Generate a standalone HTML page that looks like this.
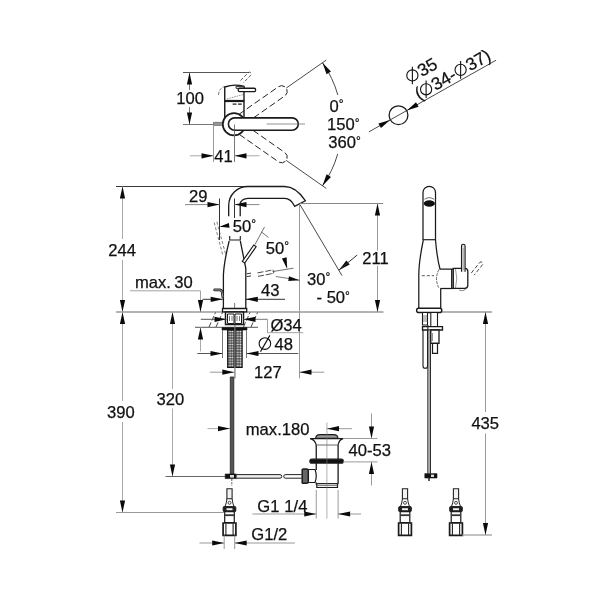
<!DOCTYPE html>
<html><head><meta charset="utf-8"><style>
html,body{margin:0;padding:0;background:#fff;width:600px;height:600px;overflow:hidden}
svg{display:block;will-change:transform}
text{font-family:"Liberation Sans",sans-serif;fill:#111;stroke:#111;stroke-width:0.25px}
</style></head><body>
<svg width="600" height="600" viewBox="0 0 600 600">
<rect width="600" height="600" fill="#fff"/>
<line x1="183" y1="72.5" x2="249" y2="72.5" stroke="#555" stroke-width="1" />
<line x1="183" y1="124.5" x2="213.5" y2="124.5" stroke="#777" stroke-width="1" />
<line x1="189.5" y1="72.5" x2="189.5" y2="90" stroke="#777" stroke-width="1" />
<line x1="189.5" y1="107" x2="189.5" y2="124.5" stroke="#777" stroke-width="1" />
<polygon points="189.50,72.50 192.10,84.50 186.90,84.50" fill="#0a0a0a"/>
<polygon points="189.50,124.50 186.90,112.50 192.10,112.50" fill="#0a0a0a"/>
<text x="176.3" y="104.2" font-size="16.6" text-anchor="start" >100</text>
<path d="M240.5,80.5 L248.2,72.8 A1.6,1.6 0 0 1 250.8,75.2 L243.2,83" stroke="#333" stroke-width="0.8" fill="none" stroke-dasharray="3.5,1.8"/>
<path d="M224.75,101 V87 Q235,83.5 244,86.5 V117" stroke="#1a1a1a" stroke-width="1.4" fill="none" />
<path d="M218.5,95 Q219,88 224.75,86.5" stroke="#333" stroke-width="0.7" fill="none" stroke-dasharray="3,1.5"/>
<path d="M224.5,101 H244.2" stroke="#1a1a1a" stroke-width="2.2" fill="none" />
<path d="M224.75,101 V117" stroke="#1a1a1a" stroke-width="1.4" fill="none" />
<path d="M227,99 L243,94.6" stroke="#444" stroke-width="0.6" fill="none" stroke-dasharray="1.5,1"/>
<path d="M232.6,104.2 H236.5 M238,104.2 H241.8" stroke="#222" stroke-width="1.3" fill="none" />
<path d="M236,86.4 h8 v1.9 h-8 z" stroke="#1a1a1a" stroke-width="0.9" fill="#fff" />
<path d="M239.8,88.25 H254 A1.7,1.7 0 0 1 254,91.65 H239.8 A1.7,1.7 0 0 1 239.8,88.25 Z" stroke="#1a1a1a" stroke-width="1.3" fill="#fff" />
<g transform="rotate(-35 234.6 124.25)">
<path d="M243.6,118.65 H292.0 A5.6,5.6 0 0 1 292.0,129.85 H243.6" stroke="#222" stroke-width="0.9" fill="none" stroke-dasharray="6.5,3.2"/>
<line x1="297.6" y1="124.25" x2="346.5" y2="124.25" stroke="#333" stroke-width="0.8" />
</g>
<g transform="rotate(35 234.6 124.25)">
<path d="M243.6,118.65 H292.0 A5.6,5.6 0 0 1 292.0,129.85 H243.6" stroke="#222" stroke-width="0.9" fill="none" stroke-dasharray="6.5,3.2"/>
<line x1="297.6" y1="124.25" x2="346.5" y2="124.25" stroke="#333" stroke-width="0.8" />
</g>
<path d="M213.5,122.4 h9.5 v3 h-9.5 z" stroke="#444" stroke-width="0.6" fill="#999" />
<circle cx="234.0" cy="124.25" r="11.2" stroke="#1a1a1a" stroke-width="1.7" fill="#fff"/>
<path d="M234.6,117.85 H292.1 A6.2,6.2 0 0 1 292.1,130.25 H234.6 A6.2,6.2 0 0 1 234.6,117.85 Z" stroke="#1a1a1a" stroke-width="1.6" fill="#fff" />
<line x1="266.7" y1="124" x2="305" y2="124" stroke="#666" stroke-width="0.7" />
<line x1="234.5" y1="124.5" x2="234.5" y2="131" stroke="#555" stroke-width="0.8" />
<line x1="213.5" y1="125.5" x2="213.5" y2="162" stroke="#999" stroke-width="1" />
<line x1="234.5" y1="131" x2="234.5" y2="162" stroke="#777" stroke-width="1" />
<line x1="190" y1="155.8" x2="213.5" y2="155.8" stroke="#aaa" stroke-width="1" />
<line x1="234.5" y1="155.8" x2="259.5" y2="155.8" stroke="#aaa" stroke-width="1" />
<polygon points="213.50,155.80 201.50,158.40 201.50,153.20" fill="#0a0a0a"/>
<polygon points="234.50,155.80 246.50,153.20 246.50,158.40" fill="#0a0a0a"/>
<text x="214.3" y="161.9" font-size="16.6" text-anchor="start" >41</text>
<path d="M322.50,62.71 A107.3,107.3 0 0 1 337.85,95.03" stroke="#333" stroke-width="0.9" fill="none" />
<polygon points="322.50,62.71 330.98,71.58 326.55,74.30" fill="#0a0a0a"/>
<path d="M322.50,185.79 A107.3,107.3 0 0 0 337.69,154.01" stroke="#333" stroke-width="0.9" fill="none" />
<polygon points="322.50,185.79 326.55,174.20 330.98,176.92" fill="#0a0a0a"/>
<text x="329.6" y="111.8" font-size="16.6" text-anchor="start" >0<tspan font-size="12" dx="0" dy="-3.7">°</tspan></text>
<text x="327" y="130.2" font-size="16.6" text-anchor="start" >150<tspan font-size="12" dx="0" dy="-3.7">°</tspan></text>
<text x="328.3" y="148.4" font-size="16.6" text-anchor="start" >360<tspan font-size="12" dx="0" dy="-3.7">°</tspan></text>
<circle cx="398.5" cy="115.2" r="9.4" stroke="#1a1a1a" stroke-width="1.3" fill="none"/>
<line x1="368.8787304219136" y1="131.8907276229148" x2="496.0759468454612" y2="60.21877959510424" stroke="#333" stroke-width="0.9" />
<polygon points="390.14,119.91 380.96,128.07 378.41,123.54" fill="#0a0a0a"/>
<polygon points="406.86,110.49 416.04,102.33 418.59,106.86" fill="#0a0a0a"/>
<circle cx="412.38" cy="75.44" r="5.6" stroke="#111" stroke-width="1.1" fill="none"/>
<line x1="412.38" y1="66.64" x2="412.38" y2="84.24" stroke="#111" stroke-width="1.1" />
<text x="0" y="0" font-size="17.6" transform="translate(421.65,77.22) rotate(-29.4)">35</text>
<text x="0" y="0" font-size="17.6" transform="translate(419.00,100.30) rotate(-29.4)">(</text>
<circle cx="426.11" cy="89.29" r="5.6" stroke="#111" stroke-width="1.1" fill="none"/>
<line x1="426.11" y1="80.49" x2="426.11" y2="98.09" stroke="#111" stroke-width="1.1" />
<text x="0" y="0" font-size="17.6" transform="translate(435.55,90.97) rotate(-29.4)">34-</text>
<circle cx="460.61" cy="69.85" r="5.6" stroke="#111" stroke-width="1.1" fill="none"/>
<line x1="460.61" y1="61.05" x2="460.61" y2="78.65" stroke="#111" stroke-width="1.1" />
<text x="0" y="0" font-size="17.6" transform="translate(470.05,71.53) rotate(-29.4)">37)</text>
<line x1="116" y1="186.5" x2="246" y2="186.5" stroke="#3a3a3a" stroke-width="1" />
<line x1="122.5" y1="186.5" x2="122.5" y2="239" stroke="#aaa" stroke-width="1" />
<line x1="122.5" y1="260" x2="122.5" y2="312" stroke="#aaa" stroke-width="1" />
<polygon points="122.50,186.50 125.10,198.50 119.90,198.50" fill="#0a0a0a"/>
<polygon points="122.50,312.00 119.90,300.00 125.10,300.00" fill="#0a0a0a"/>
<text x="108.2" y="255.8" font-size="16.6" text-anchor="start" >244</text>
<line x1="122.5" y1="312" x2="122.5" y2="401" stroke="#aaa" stroke-width="1" />
<line x1="122.5" y1="422" x2="122.5" y2="512.5" stroke="#aaa" stroke-width="1" />
<polygon points="122.50,312.00 125.10,324.00 119.90,324.00" fill="#0a0a0a"/>
<polygon points="122.50,512.50 119.90,500.50 125.10,500.50" fill="#0a0a0a"/>
<text x="107" y="418.1" font-size="16.6" text-anchor="start" >390</text>
<line x1="116" y1="512.5" x2="224" y2="512.5" stroke="#999" stroke-width="1" />
<line x1="172.5" y1="312" x2="172.5" y2="389" stroke="#aaa" stroke-width="1" />
<line x1="172.5" y1="408.5" x2="172.5" y2="476.5" stroke="#aaa" stroke-width="1" />
<polygon points="172.50,312.00 175.10,324.00 169.90,324.00" fill="#0a0a0a"/>
<polygon points="172.50,476.50 169.90,464.50 175.10,464.50" fill="#0a0a0a"/>
<text x="156.6" y="405" font-size="16.6" text-anchor="start" >320</text>
<line x1="165.5" y1="476.5" x2="226" y2="476.5" stroke="#666" stroke-width="1" />
<line x1="116" y1="312" x2="383.5" y2="312" stroke="#9a9a9a" stroke-width="1.6" />
<line x1="441.7" y1="312" x2="492" y2="312" stroke="#9a9a9a" stroke-width="1.6" />
<line x1="195" y1="327.3" x2="258" y2="327.3" stroke="#777" stroke-width="1.2" />
<line x1="209" y1="327" x2="215.5" y2="312.5" stroke="#333" stroke-width="0.9" stroke-dasharray="5,2"/>
<line x1="216" y1="327" x2="222.5" y2="312.5" stroke="#333" stroke-width="0.9" stroke-dasharray="5,2"/>
<line x1="243.5" y1="327" x2="250.0" y2="312.5" stroke="#333" stroke-width="0.9" stroke-dasharray="5,2"/>
<line x1="251" y1="327" x2="257.5" y2="312.5" stroke="#333" stroke-width="0.9" stroke-dasharray="5,2"/>
<text x="135" y="287.7" font-size="16.6" text-anchor="start" >max.</text>
<text x="174.3" y="287.7" font-size="16.6" text-anchor="start" >30</text>
<path d="M130,290.8 H200.5 V312" stroke="#999" stroke-width="0.9" fill="none" />
<polygon points="200.50,312.00 197.90,300.00 203.10,300.00" fill="#0a0a0a"/>
<line x1="200.5" y1="327.4" x2="200.5" y2="351.4" stroke="#aaa" stroke-width="1" />
<polygon points="200.50,327.40 203.10,339.40 197.90,339.40" fill="#0a0a0a"/>
<path d="M228.7,216.3 V205.5 A19,19 0 0 1 247.7,186.5 H284.5 Q296,186.5 305.3,200.7 L294.7,206.3 Q291,198.3 284.5,198.3 H248 A7.8,6 0 0 0 240.2,204.3 V216.3" stroke="#1a1a1a" stroke-width="1.3" fill="none" />
<line x1="219.5" y1="198.5" x2="219.5" y2="240" stroke="#333" stroke-width="1" />
<line x1="234.5" y1="198.5" x2="234.5" y2="218" stroke="#333" stroke-width="1" />
<line x1="185" y1="204.6" x2="219.5" y2="204.6" stroke="#888" stroke-width="1" />
<line x1="234.5" y1="204.6" x2="259.5" y2="204.6" stroke="#888" stroke-width="1" />
<polygon points="219.50,204.60 207.50,207.20 207.50,202.00" fill="#0a0a0a"/>
<polygon points="234.50,204.60 246.50,202.00 246.50,207.20" fill="#0a0a0a"/>
<text x="189" y="202.2" font-size="16.6" text-anchor="start" >29</text>
<line x1="300" y1="203.5" x2="383.2" y2="203.5" stroke="#888" stroke-width="1" />
<line x1="377.5" y1="203.5" x2="377.5" y2="250.7" stroke="#999" stroke-width="1" />
<line x1="377.5" y1="265.8" x2="377.5" y2="312" stroke="#999" stroke-width="1" />
<polygon points="377.50,203.50 380.10,215.50 374.90,215.50" fill="#0a0a0a"/>
<polygon points="377.50,312.00 374.90,300.00 380.10,300.00" fill="#0a0a0a"/>
<text x="362.3" y="263.9" font-size="16.6" text-anchor="start" >211</text>
<line x1="299.5" y1="204.7" x2="299.5" y2="378.3" stroke="#999" stroke-width="1" />
<line x1="300" y1="204.7" x2="342" y2="275.6" stroke="#333" stroke-width="0.9" />
<polygon points="338.80,270.20 346.40,260.55 349.71,264.56" fill="#0a0a0a"/>
<line x1="338.8" y1="270.2" x2="357.2" y2="255" stroke="#333" stroke-width="1" />
<text x="307" y="284.5" font-size="16.6" text-anchor="start" >30<tspan font-size="12" dx="0" dy="-3.7">°</tspan></text>
<text x="316.5" y="303.2" font-size="16.6" text-anchor="start" >- 50<tspan font-size="12" dx="0" dy="-3.7">°</tspan></text>
<text x="232.8" y="232" font-size="16.6" text-anchor="start" >50<tspan font-size="12" dx="0" dy="-3.7">°</tspan></text>
<polygon points="219.30,226.70 228.85,222.90 229.54,227.65" fill="#0a0a0a"/>
<path d="M214.2,222.5 L223,256 M216.8,221.8 L225.6,254" stroke="#444" stroke-width="0.7" fill="none" stroke-dasharray="3,2"/>
<path d="M229.7,236 V240 H240.3 V236" stroke="#1a1a1a" stroke-width="1.1" fill="none" />
<path d="M229.2,240.8 Q224,262 223.4,275 V308.3 M240.3,240.8 L245.8,268.3 V308.3" stroke="#1a1a1a" stroke-width="1.3" fill="none" />
<path d="M222.5,308.5 h24.2 v3.3 h-24.2 z" stroke="#1a1a1a" stroke-width="1.3" fill="#fff" />
<line x1="234.6" y1="303" x2="234.6" y2="308" stroke="#444" stroke-width="0.7" />
<g transform="rotate(35 249.2 254)">
<path d="M247.8,244 h2.9 v20 h-2.9 z" stroke="#1a1a1a" stroke-width="1.15" fill="#fff" />
</g>
<line x1="255" y1="244.5" x2="264.5" y2="227" stroke="#333" stroke-width="0.7" />
<line x1="261.5" y1="232" x2="268.5" y2="237.5" stroke="#333" stroke-width="0.7" />
<text x="265.7" y="253.8" font-size="16.6" text-anchor="start" >50<tspan font-size="12" dx="0" dy="-3.7">°</tspan></text>
<path d="M246.8,273.8 L251,273.1 M246.8,276.6 L251,275.9" stroke="#333" stroke-width="1" fill="none" />
<path d="M257.5,272.9 L272.5,270 M258,276.4 L272.5,273.5" stroke="#333" stroke-width="0.9" fill="none" stroke-dasharray="6,2"/>
<path d="M272.5,270 A1.8,1.8 0 0 1 272.5,273.5" stroke="#333" stroke-width="0.8" fill="none" />
<line x1="272.5" y1="271.6" x2="293.5" y2="268.2" stroke="#333" stroke-width="0.7" />
<polygon points="287.20,269.00 281.97,258.48 286.62,257.27" fill="#0a0a0a"/>
<line x1="275.8" y1="276.5" x2="299.5" y2="280.2" stroke="#444" stroke-width="0.7" />
<polygon points="299.50,280.20 288.26,280.89 288.99,276.15" fill="#0a0a0a"/>
<path d="M214.6,289.9 H220 Q222,290.2 222.2,292.5 L222.8,297" stroke="#222" stroke-width="2.6" fill="none" stroke-linecap="round"/>
<path d="M214.6,289.9 H220 Q222,290.2 222.2,292.5 L222.8,297" stroke="#aaa" stroke-width="0.9" fill="none" stroke-linecap="round"/>
<line x1="202.5" y1="299.3" x2="222.7" y2="299.3" stroke="#333" stroke-width="1" />
<line x1="245.8" y1="299.3" x2="285" y2="299.3" stroke="#333" stroke-width="1" />
<polygon points="222.70,299.30 210.70,301.90 210.70,296.70" fill="#0a0a0a"/>
<polygon points="245.80,299.30 257.80,296.70 257.80,301.90" fill="#0a0a0a"/>
<text x="261" y="295.8" font-size="16.6" text-anchor="start" >43</text>
<path d="M225.5,312 h18 v12.5 h-18 z" stroke="#1a1a1a" stroke-width="1.5" fill="#fff" />
<path d="M227.5,314 h6.5 v9.5 h-6.5 z M235,314 h6.5 v9.5 h-6.5 z" stroke="#1a1a1a" stroke-width="1" fill="#fff" />
<path d="M229.5,316 v5 M232,316 v5 M237,316 v5 M239.5,316 v5" stroke="#555" stroke-width="0.8" fill="none" />
<path d="M222,327.5 h25 v2.5 h-25 z" stroke="#1a1a1a" stroke-width="0.6" fill="#111" />
<defs><pattern id="br" width="2.6" height="2.6" patternUnits="userSpaceOnUse"><rect width="2.6" height="2.6" fill="#444"/><circle cx="1.3" cy="1.3" r="0.95" fill="#e6e6e6"/></pattern></defs>
<rect x="227.6" y="330" width="6.6" height="37.5" fill="url(#br)" stroke="#111" stroke-width="1"/>
<rect x="235.6" y="330" width="6.6" height="37.5" fill="url(#br)" stroke="#111" stroke-width="1"/>
<line x1="234.9" y1="325" x2="234.9" y2="378.5" stroke="#777" stroke-width="1.2" />
<line x1="200.8" y1="319.3" x2="226.5" y2="319.3" stroke="#555" stroke-width="1" />
<line x1="243.5" y1="319.3" x2="267.5" y2="319.3" stroke="#777" stroke-width="1" />
<polygon points="226.50,319.30 214.50,321.90 214.50,316.70" fill="#0a0a0a"/>
<polygon points="243.50,319.30 255.50,316.70 255.50,321.90" fill="#0a0a0a"/>
<path d="M267.5,319.3 V332.7 H303.3" stroke="#999" stroke-width="0.9" fill="none" />
<text x="270.4" y="331" font-size="16.6" text-anchor="start" >Ø34</text>
<line x1="222.5" y1="330" x2="222.5" y2="358" stroke="#777" stroke-width="1" />
<line x1="246.5" y1="330" x2="246.5" y2="358" stroke="#777" stroke-width="1" />
<line x1="197.3" y1="353.5" x2="222.5" y2="353.5" stroke="#555" stroke-width="1" />
<line x1="246.5" y1="353.5" x2="298.3" y2="353.5" stroke="#555" stroke-width="1" />
<polygon points="222.50,353.50 210.50,356.10 210.50,350.90" fill="#0a0a0a"/>
<polygon points="246.50,353.50 258.50,350.90 258.50,356.10" fill="#0a0a0a"/>
<circle cx="264.9" cy="343.6" r="5.8" stroke="#111" stroke-width="1.1" fill="none"/>
<line x1="260.5" y1="351.6" x2="269.9" y2="335.40000000000003" stroke="#111" stroke-width="1.1" />
<text x="274.5" y="350.3" font-size="16.6" text-anchor="start" >48</text>
<line x1="210" y1="372.2" x2="234.3" y2="372.2" stroke="#999" stroke-width="1" />
<polygon points="234.30,372.20 222.30,374.80 222.30,369.60" fill="#0a0a0a"/>
<line x1="299.5" y1="372.2" x2="324.2" y2="372.2" stroke="#999" stroke-width="1" />
<polygon points="299.50,372.20 311.50,369.60 311.50,374.80" fill="#0a0a0a"/>
<text x="254" y="378.2" font-size="16.6" text-anchor="start" >127</text>
<path d="M230.3,377 h3.5 v97 h-3.5 z" stroke="#222" stroke-width="0.8" fill="#555" />
<path d="M225.2,474 h11.5 v4.6 h-11.5 z" stroke="#1a1a1a" stroke-width="0.6" fill="#111" />
<path d="M230,475 h4 v2.6 h-4 z" stroke="none" stroke-width="0" fill="#ddd" />
<line x1="231.8" y1="479" x2="231.8" y2="486" stroke="#555" stroke-width="1" stroke-dasharray="2,1.2"/>
<line x1="207.5" y1="428.6" x2="230" y2="428.6" stroke="#aaa" stroke-width="1" />
<polygon points="230.00,428.60 218.00,431.20 218.00,426.00" fill="#0a0a0a"/>
<text x="245.8" y="435.2" font-size="16.6" text-anchor="start" >max.180</text>
<path d="M236.7,474.6 H280 A1.8,1.8 0 0 1 280,478.2 H236.7 M285.5,474.6 H301.7 M285.5,478.2 H301.7 M285.5,474.6 A1.8,1.8 0 0 0 285.5,478.2" stroke="#222" stroke-width="1" fill="#eee" />
<path d="M315.6,438.3 Q316,434.6 320,434.6 H333.6 Q337.6,434.6 338,438.3 Z" stroke="#1a1a1a" stroke-width="1.1" fill="#999" />
<path d="M310,438.6 H343.2 Q339,439.5 338.1,445 M310,438.6 Q315,439.5 316.25,445" stroke="#1a1a1a" stroke-width="1.2" fill="none" />
<path d="M316.25,445 V459.4 M338.1,445 V459.4" stroke="#1a1a1a" stroke-width="1.3" fill="none" />
<line x1="316.5" y1="445" x2="338" y2="445" stroke="#444" stroke-width="0.8" />
<path d="M311.8,459.2 H341.4 A1.95,1.95 0 0 1 341.4,463.1 H311.8 A1.95,1.95 0 0 1 311.8,459.2 Z" stroke="#1a1a1a" stroke-width="1.2" fill="#111" />
<path d="M316.25,463.1 V470 M338.1,463.1 V483.75 M316.25,482.5 V483.75 H338.1" stroke="#1a1a1a" stroke-width="1.3" fill="none" />
<path d="M308.3,469.5 H315 Q317.5,476 315,482.5 H308.3" stroke="#1a1a1a" stroke-width="1.2" fill="#fff" />
<path d="M302.2,470.5 Q301.7,469 303.5,469 H306.5 Q308.3,469 308.3,470.5 V481.8 Q308.3,483.3 306.5,483.3 H303.5 Q301.7,483.3 302.2,481.8 Z" stroke="#1a1a1a" stroke-width="1.5" fill="#666" />
<path d="M316.8,483.75 H337.5 V487.5 H316.8 Z" stroke="#1a1a1a" stroke-width="1.2" fill="#fff" />
<line x1="317" y1="485.6" x2="337.3" y2="485.6" stroke="#555" stroke-width="0.8" />
<line x1="326.9" y1="422.5" x2="326.9" y2="518.5" stroke="#777" stroke-width="0.6" />
<line x1="327" y1="428.7" x2="352" y2="428.7" stroke="#999" stroke-width="1" />
<polygon points="327.00,428.70 339.00,426.10 339.00,431.30" fill="#0a0a0a"/>
<line x1="371.5" y1="413.5" x2="371.5" y2="437.5" stroke="#999" stroke-width="1" />
<polygon points="371.50,438.50 368.90,426.50 374.10,426.50" fill="#0a0a0a"/>
<line x1="371.5" y1="461.5" x2="371.5" y2="485.5" stroke="#999" stroke-width="1" />
<polygon points="371.50,461.90 374.10,473.90 368.90,473.90" fill="#0a0a0a"/>
<line x1="343" y1="438.5" x2="377.5" y2="438.5" stroke="#999" stroke-width="1" />
<line x1="343" y1="461.9" x2="377.5" y2="461.9" stroke="#999" stroke-width="1" />
<text x="348.6" y="456.1" font-size="16.6" text-anchor="start" >40-53</text>
<line x1="316.25" y1="490" x2="316.25" y2="518.5" stroke="#999" stroke-width="1" />
<line x1="338.1" y1="490" x2="338.1" y2="518.5" stroke="#999" stroke-width="1" />
<line x1="252.4" y1="514" x2="316.25" y2="514" stroke="#999" stroke-width="1" />
<polygon points="316.25,514.00 304.25,516.60 304.25,511.40" fill="#0a0a0a"/>
<line x1="338.1" y1="514" x2="361" y2="514" stroke="#999" stroke-width="1" />
<polygon points="338.10,514.00 350.10,511.40 350.10,516.60" fill="#0a0a0a"/>
<text x="257.3" y="511.6" font-size="16.6" text-anchor="start" >G1</text>
<text x="284.3" y="511.6" font-size="16.6" text-anchor="start" >1/4</text>
<path d="M226.9,488.7 h5.2 v10.1 h-5.2 z" stroke="#222" stroke-width="1.1" fill="#f2f2f2" />
<path d="M226.9,498.8 Q226.5,503 225.0,506.6 M232.1,498.8 Q232.5,503 234.0,506.6" stroke="#222" stroke-width="1" fill="none" />
<circle cx="229.5" cy="502.8" r="1.5" stroke="#333" stroke-width="0.9" fill="none"/>
<path d="M224.1,506.6 h10.8 a0.9,0.9 0 0 1 0.9,0.9 v3.2 a0.9,0.9 0 0 1 -0.9,0.9 h-10.8 a0.9,0.9 0 0 1 -0.9,-0.9 v-3.2 a0.9,0.9 0 0 1 0.9,-0.9 z" stroke="#1a1a1a" stroke-width="1" fill="#222" />
<path d="M226.5,508.2 h6 v2 h-6 z" stroke="none" stroke-width="0" fill="#eee" />
<path d="M224.7,511.6 h9.6 v11 h-9.6 z" stroke="#1a1a1a" stroke-width="1.2" fill="#fff" />
<line x1="224.9" y1="515.2" x2="234.1" y2="515.2" stroke="#333" stroke-width="1.8" />
<path d="M223.1,523 h12.8 v12.3 h-12.8 z" stroke="#1a1a1a" stroke-width="1.7" fill="#fff" />
<line x1="225.9" y1="523.5" x2="225.9" y2="535" stroke="#222" stroke-width="1.1" />
<line x1="233.1" y1="523.5" x2="233.1" y2="535" stroke="#222" stroke-width="1.1" />
<line x1="224.2" y1="535.5" x2="224.2" y2="549" stroke="#999" stroke-width="1" />
<line x1="234.7" y1="535.5" x2="234.7" y2="549" stroke="#999" stroke-width="1" />
<line x1="199.5" y1="543" x2="224.2" y2="543" stroke="#999" stroke-width="1" />
<polygon points="224.20,543.00 212.20,545.60 212.20,540.40" fill="#0a0a0a"/>
<line x1="234.7" y1="543" x2="295" y2="543" stroke="#999" stroke-width="1" />
<polygon points="234.70,543.00 246.70,540.40 246.70,545.60" fill="#0a0a0a"/>
<text x="251.3" y="540.3" font-size="16.6" text-anchor="start" >G1/2</text>
<path d="M423,240 V192.5 A6.25,6.25 0 0 1 435.5,192.5 V240" stroke="#1a1a1a" stroke-width="1.25" fill="none" />
<line x1="423" y1="239.7" x2="435.5" y2="239.7" stroke="#222" stroke-width="1.2" />
<ellipse cx="429.3" cy="203.5" rx="5.6" ry="3.3" fill="#111"/>
<path d="M424.5,199.3 Q429.3,196 434,199.3" stroke="#444" stroke-width="0.8" fill="none" />
<path d="M423.3,240 Q418.8,262 418.8,275 V308.3 M435.5,240 Q437,258 440,269 H453.3" stroke="#1a1a1a" stroke-width="1.25" fill="none" />
<line x1="440.7" y1="288.3" x2="440.7" y2="308.3" stroke="#1a1a1a" stroke-width="1.25" />
<path d="M440.7,288.5 H453.3" stroke="#1a1a1a" stroke-width="1.25" fill="none" />
<path d="M439,269.5 Q434,278.5 439,288.3" stroke="#444" stroke-width="0.8" fill="none" stroke-dasharray="3,1"/>
<path d="M451.7,269 V288.3 M453.3,268.3 h11.5 a3,3 0 0 1 3,3 v14 a3,3 0 0 1 -3,3 h-11.5 z" stroke="#1a1a1a" stroke-width="1.3" fill="#fff" />
<path d="M455.5,269 Q458,278.5 455.5,288" stroke="#555" stroke-width="0.6" fill="none" />
<path d="M461.5,271.7 V246 a1.8,1.8 0 0 1 3.6,0 V271.7" stroke="#1a1a1a" stroke-width="1.1" fill="#ddd" />
<line x1="463.3" y1="248" x2="463.3" y2="270" stroke="#888" stroke-width="0.6" />
<path d="M471.3,273 L479.8,262.4 A1.8,1.8 0 0 1 482.6,264.6 L474.1,275.2" stroke="#333" stroke-width="0.9" fill="none" stroke-dasharray="4,2"/>
<path d="M421.8,275.7 H434" stroke="#444" stroke-width="0.9" fill="none" stroke-dasharray="3,2"/>
<path d="M459,290 Q463,292 466,289" stroke="#555" stroke-width="0.7" fill="none" />
<path d="M418.7,308.3 h21 a2.1,2.1 0 0 1 0,4.2 h-21 a2.1,2.1 0 0 1 0,-4.2 z" stroke="#1a1a1a" stroke-width="1.4" fill="#fff" />
<path d="M422.5,312.5 h5 v12.5 h-5 z" stroke="#1a1a1a" stroke-width="1.1" fill="#fff" />
<line x1="424" y1="315" x2="424" y2="322" stroke="#666" stroke-width="0.8" />
<line x1="426" y1="315" x2="426" y2="322" stroke="#666" stroke-width="0.8" />
<path d="M430.8,312.5 h6.7 v14.2 h-6.7 z" stroke="#1a1a1a" stroke-width="1.1" fill="#fff" />
<path d="M422.5,326.7 h20 v3.3 h-20 z" stroke="#1a1a1a" stroke-width="1.3" fill="#fff" />
<path d="M430.8,330 h8.2 v13.3 h-8.2 z" stroke="#1a1a1a" stroke-width="1.3" fill="#fff" />
<line x1="432.5" y1="333" x2="432.5" y2="341" stroke="#777" stroke-width="0.8" />
<path d="M432.5,343.3 h5 v10 h-5 z" stroke="#1a1a1a" stroke-width="1.2" fill="#fff" />
<path d="M423,330 V366 a2.3,2.3 0 0 0 4.6,0 V330" stroke="#1a1a1a" stroke-width="1.1" fill="none" />
<path d="M427.9,325 V473.6 M430.4,330 V473.6" stroke="#222" stroke-width="1.1" fill="none" />
<line x1="429.15" y1="330" x2="429.15" y2="473.6" stroke="#999" stroke-width="1.2" />
<path d="M424.8,473.6 h12.2 v4.4 h-12.2 z" stroke="#1a1a1a" stroke-width="0.6" fill="#111" />
<path d="M431,474.6 h3 v2.4 h-3 z" stroke="none" stroke-width="0" fill="#ddd" />
<line x1="429" y1="478" x2="429" y2="481" stroke="#333" stroke-width="1.6" />
<path d="M402.4,488.7 h5.2 v10.1 h-5.2 z" stroke="#222" stroke-width="1.1" fill="#f2f2f2" />
<path d="M402.4,498.8 Q402,503 400.5,506.6 M407.6,498.8 Q408,503 409.5,506.6" stroke="#222" stroke-width="1" fill="none" />
<circle cx="405" cy="502.8" r="1.5" stroke="#333" stroke-width="0.9" fill="none"/>
<path d="M399.6,506.6 h10.8 a0.9,0.9 0 0 1 0.9,0.9 v3.2 a0.9,0.9 0 0 1 -0.9,0.9 h-10.8 a0.9,0.9 0 0 1 -0.9,-0.9 v-3.2 a0.9,0.9 0 0 1 0.9,-0.9 z" stroke="#1a1a1a" stroke-width="1" fill="#222" />
<path d="M402,508.2 h6 v2 h-6 z" stroke="none" stroke-width="0" fill="#eee" />
<path d="M400.2,511.6 h9.6 v11 h-9.6 z" stroke="#1a1a1a" stroke-width="1.2" fill="#fff" />
<line x1="400.4" y1="515.2" x2="409.6" y2="515.2" stroke="#333" stroke-width="1.8" />
<path d="M398.6,523 h12.8 v12.3 h-12.8 z" stroke="#1a1a1a" stroke-width="1.7" fill="#fff" />
<line x1="401.4" y1="523.5" x2="401.4" y2="535" stroke="#222" stroke-width="1.1" />
<line x1="408.6" y1="523.5" x2="408.6" y2="535" stroke="#222" stroke-width="1.1" />
<path d="M453.4,488.7 h5.2 v10.1 h-5.2 z" stroke="#222" stroke-width="1.1" fill="#f2f2f2" />
<path d="M453.4,498.8 Q453,503 451.5,506.6 M458.6,498.8 Q459,503 460.5,506.6" stroke="#222" stroke-width="1" fill="none" />
<circle cx="456" cy="502.8" r="1.5" stroke="#333" stroke-width="0.9" fill="none"/>
<path d="M450.6,506.6 h10.8 a0.9,0.9 0 0 1 0.9,0.9 v3.2 a0.9,0.9 0 0 1 -0.9,0.9 h-10.8 a0.9,0.9 0 0 1 -0.9,-0.9 v-3.2 a0.9,0.9 0 0 1 0.9,-0.9 z" stroke="#1a1a1a" stroke-width="1" fill="#222" />
<path d="M453,508.2 h6 v2 h-6 z" stroke="none" stroke-width="0" fill="#eee" />
<path d="M451.2,511.6 h9.6 v11 h-9.6 z" stroke="#1a1a1a" stroke-width="1.2" fill="#fff" />
<line x1="451.4" y1="515.2" x2="460.6" y2="515.2" stroke="#333" stroke-width="1.8" />
<path d="M449.6,523 h12.8 v12.3 h-12.8 z" stroke="#1a1a1a" stroke-width="1.7" fill="#fff" />
<line x1="452.4" y1="523.5" x2="452.4" y2="535" stroke="#222" stroke-width="1.1" />
<line x1="459.6" y1="523.5" x2="459.6" y2="535" stroke="#222" stroke-width="1.1" />
<line x1="485.5" y1="312" x2="485.5" y2="412" stroke="#999" stroke-width="1" />
<line x1="485.5" y1="433.5" x2="485.5" y2="535" stroke="#999" stroke-width="1" />
<polygon points="485.50,312.00 488.10,324.00 482.90,324.00" fill="#0a0a0a"/>
<polygon points="485.50,535.00 482.90,523.00 488.10,523.00" fill="#0a0a0a"/>
<line x1="462" y1="535" x2="492" y2="535" stroke="#999" stroke-width="1.2" />
<text x="471.4" y="429.4" font-size="16.6" text-anchor="start" >435</text>
</svg></body></html>
